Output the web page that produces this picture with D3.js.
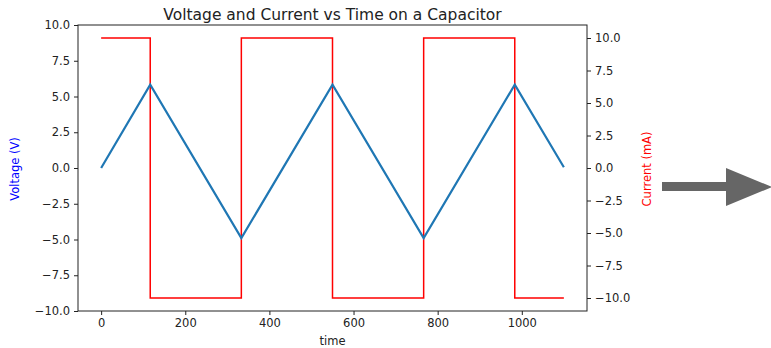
<!DOCTYPE html>
<html>
<head>
<meta charset="utf-8">
<script src="https://d3js.org/d3.v7.min.js"></script>
<style>
  body { margin: 0; background: #fff; }
  text { font-family: "DejaVu Sans", sans-serif; }
</style>
</head>
<body>
<svg id="chart" width="771" height="348"></svg>
<script>
// voltage vertices (triangle wave) and current steps
const vTimes = [0, 116.7, 333.3, 550, 766.7, 983.3, 1100];
const vValues = [0, 5.83, -4.9, 5.83, -4.9, 5.83, 0.05];
const iTimes = [0, 116.7, 116.7, 333.3, 333.3, 550, 550, 766.7, 766.7, 983.3, 983.3, 1100];
const iValues = [10, 10, -10, -10, 10, 10, -10, -10, 10, 10, -10, -10];
const xTicks = [0, 200, 400, 600, 800, 1000];
const vTicks = [-10, -7.5, -5, -2.5, 0, 2.5, 5, 7.5, 10];
const iTicks = [-10, -7.5, -5, -2.5, 0, 2.5, 5, 7.5, 10];

const svg = d3.select("#chart");
const mLeft = 78, mRight = 587, mTop = 25, mBottom = 311;

const x = d3.scaleLinear().domain([-55, 1155]).range([mLeft, mRight]);
const yV = d3.scaleLinear().domain([-10, 10]).range([mBottom, mTop]);
const yI = d3.scaleLinear().domain([-11, 11]).range([mBottom, mTop]);

const fmt = d => d3.format(".1f")(d).replace("-", "\u2212");

const gx = svg.append("g")
  .attr("transform", `translate(0,${mBottom})`)
  .call(d3.axisBottom(x).tickValues(xTicks).tickSize(4).tickPadding(4).tickFormat(d3.format("d")));
const gl = svg.append("g")
  .attr("transform", `translate(${mLeft},0)`)
  .call(d3.axisLeft(yV).tickValues(vTicks).tickSize(4).tickPadding(4).tickFormat(fmt));
const gr = svg.append("g")
  .attr("transform", `translate(${mRight},0)`)
  .call(d3.axisRight(yI).tickValues(iTicks).tickSize(4).tickPadding(4).tickFormat(fmt));

[gx, gl, gr].forEach(g => {
  g.select(".domain").remove();
  g.selectAll("text").style("font-family", "DejaVu Sans").style("font-size", "11.5px").attr("fill", "#222");
  g.selectAll("line").attr("stroke", "#222");
});

// frame
svg.append("rect")
  .attr("x", mLeft).attr("y", mTop)
  .attr("width", mRight - mLeft).attr("height", mBottom - mTop)
  .attr("fill", "none").attr("stroke", "#222").attr("stroke-width", 1);

const vLine = d3.line().x((d, i) => x(vTimes[i])).y(d => yV(d));
const iLine = d3.line().x((d, i) => x(iTimes[i])).y(d => yI(d));

svg.append("path").datum(iValues)
  .attr("d", iLine).attr("fill", "none").attr("stroke", "red").attr("stroke-width", 1.5);
svg.append("path").datum(vValues)
  .attr("d", vLine).attr("fill", "none").attr("stroke", "#1f77b4").attr("stroke-width", 2.2);

svg.append("text")
  .attr("x", (mLeft + mRight) / 2).attr("y", 19.5)
  .attr("text-anchor", "middle")
  .style("font-size", "15.5px").attr("fill", "#222")
  .text("Voltage and Current vs Time on a Capacitor");

svg.append("text")
  .attr("x", (mLeft + mRight) / 2).attr("y", 345)
  .attr("text-anchor", "middle")
  .style("font-size", "11.5px").attr("fill", "#222")
  .text("time");

svg.append("text")
  .attr("transform", `translate(19,169) rotate(-90)`)
  .attr("text-anchor", "middle")
  .style("font-size", "11.5px").attr("fill", "blue")
  .text("Voltage (V)");

svg.append("text")
  .attr("transform", `translate(651,169) rotate(-90)`)
  .attr("text-anchor", "middle")
  .style("font-size", "11.5px").attr("fill", "red")
  .text("Current (mA)");

// arrow on the right
svg.append("path")
  .attr("d", "M662,182 L726,182 L726,168 L772,187 L726,206 L726,191 L662,191 Z")
  .attr("fill", "#666");
</script>
</body>
</html>
